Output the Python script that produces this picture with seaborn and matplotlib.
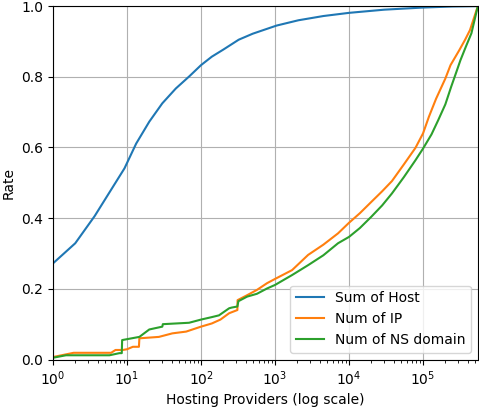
import numpy as np
import pandas as pd
import matplotlib
matplotlib.use("Agg")
import matplotlib.pyplot as plt
import seaborn as sns

# Sum of Host
host_x = [1, 2, 3.66, 6, 9.25, 13.3, 20, 30, 45.7, 70, 100, 140, 200, 323, 500, 1050, 2070,
          4500, 1e4, 3e4, 1e5, 2.5e5, 5.5e5]
host_y = [0.272, 0.329, 0.406, 0.478, 0.541, 0.611, 0.673, 0.725, 0.767, 0.802, 0.833, 0.857,
          0.877, 0.905, 0.922, 0.945, 0.960, 0.972, 0.981, 0.990, 0.996, 0.999, 1.0]

# Num of IP
ip_x = [1, 1.9, 6.1, 7, 8.8, 10, 12, 14.5, 14.7, 27, 41, 63, 100, 140, 183, 240, 310, 312,
        420, 570, 780, 1000, 1700, 2800, 4500, 7100, 1e4, 1.4e4, 2e4, 2.8e4, 3.8e4, 5.5e4,
        7.9e4, 1e5, 1.2e5, 1.5e5, 2e5, 2.35e5, 3.1e5, 3.7e5, 4.3e5, 5.5e5]
ip_y = [0.007, 0.019, 0.019, 0.027, 0.027, 0.029, 0.036, 0.036, 0.060, 0.064, 0.074, 0.079,
        0.093, 0.102, 0.113, 0.131, 0.140, 0.168, 0.182, 0.197, 0.216, 0.228, 0.253, 0.296,
        0.325, 0.357, 0.387, 0.414, 0.446, 0.476, 0.505, 0.552, 0.599, 0.640, 0.687, 0.738,
        0.795, 0.833, 0.876, 0.905, 0.932, 1.0]

# Num of NS domain
ns_x = [1, 1.5, 5.8, 7.9, 8.5, 8.6, 14.7, 20, 30, 30.5, 69, 100, 140, 175, 240, 260, 310, 320,
        420, 570, 780, 1000, 1700, 2800, 4500, 7100, 1e4, 1.4e4, 2e4, 2.8e4, 3.8e4, 5.5e4,
        7.9e4, 1e5, 1.3e5, 1.6e5, 2e5, 2.4e5, 2.8e5, 3.2e5, 3.8e5, 4.5e5, 5.5e5]
ns_y = [0.005, 0.012, 0.012, 0.018, 0.018, 0.055, 0.064, 0.085, 0.093, 0.100, 0.104, 0.113,
        0.120, 0.125, 0.145, 0.147, 0.150, 0.165, 0.178, 0.186, 0.201, 0.211, 0.239, 0.267,
        0.295, 0.329, 0.347, 0.372, 0.404, 0.436, 0.470, 0.516, 0.564, 0.597, 0.637, 0.677,
        0.722, 0.772, 0.812, 0.847, 0.886, 0.923, 1.0]

labels = ["Sum of Host", "Num of IP", "Num of NS domain"]

df = pd.concat([
    pd.DataFrame({"x": host_x, "y": host_y, "series": labels[0]}),
    pd.DataFrame({"x": ip_x, "y": ip_y, "series": labels[1]}),
    pd.DataFrame({"x": ns_x, "y": ns_y, "series": labels[2]}),
], ignore_index=True)

fig = plt.figure(figsize=(4.79, 4.09), dpi=100)
ax = fig.add_axes([0.1106, 0.121, 0.887, 0.864])

sns.lineplot(data=df, x="x", y="y", hue="series", hue_order=labels,
             palette=["#1f77b4", "#ff7f0e", "#2ca02c"], estimator=None, sort=False,
             linewidth=1.5, ax=ax)

ax.set_xscale("log")
ax.set_xlim(1, 5.5e5)
ax.set_ylim(0, 1)
ax.grid(True)
ax.set_xlabel("Hosting Providers (log scale)")
ax.set_ylabel("Rate")
ax.legend(loc="lower right")

fig.savefig("out.png", dpi=100)
